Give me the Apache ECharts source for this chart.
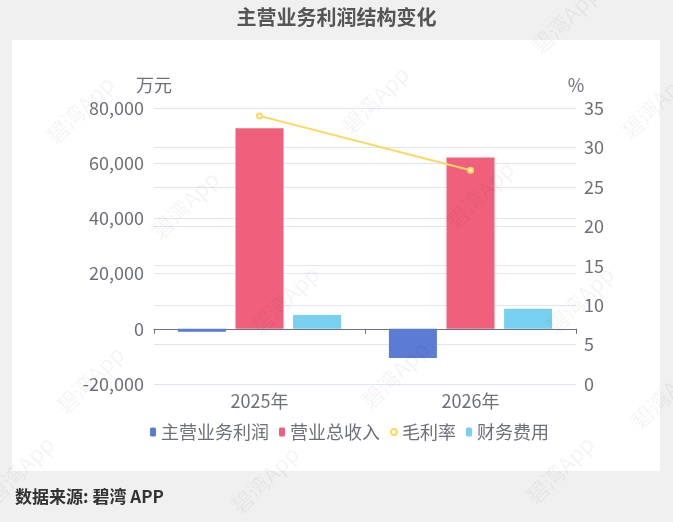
<!DOCTYPE html>
<html>
<head>
<meta charset="utf-8">
<script src="https://cdn.jsdelivr.net/npm/echarts@6/dist/echarts.min.js"></script>
<style>
html,body{margin:0;padding:0;background:#f0f0f0;}
#main{width:673px;height:522px;}
</style>
</head>
<body>
<div id="main"></div>
<script>
var categories = ['2025年', '2026年'];
var mainProfit = [-1100, -10600];
var totalRevenue = [72700, 62100];
var grossMargin = [34.0, 27.1];
var financeCost = [5000, 7300];
var seriesNames = ['主营业务利润', '营业总收入', '毛利率', '财务费用'];

var FONT = '"Noto Sans CJK SC", "Noto Sans", sans-serif';
var watermarkPos = [[80,110],[375,100],[655,105],[565,20],[185,205],[480,195],[285,300],[580,300],[90,380],[395,375],[265,480],[560,470],[20,470],[665,395]];
var graphics = [
  {type:'rect', z:-10, shape:{x:12,y:40,width:648,height:431}, style:{fill:'#ffffff'}, silent:true},
  {type:'text', left:'center', top:7, style:{text:'主营业务利润结构变化', font:'bold 20px ' + FONT, fill:'#555555'}},
  {type:'text', left:15, top:488, style:{text:'数据来源: 碧湾 APP', font:'bold 17px ' + FONT, fill:'#333333'}}
];
watermarkPos.forEach(function(p){
  graphics.push({type:'text', x:p[0], y:p[1], rotation:Math.PI/4, z:100, silent:true,
    style:{text:'碧湾App', font:'22px ' + FONT, fill:'rgba(0,0,0,0.045)', align:'center', verticalAlign:'middle'}});
});

var chart = echarts.init(document.getElementById('main'));
chart.setOption({
  backgroundColor:'#f0f0f0',
  textStyle:{fontFamily:FONT},
  graphic: graphics,
  legend:{
    top:418, left:145, itemGap:10, itemWidth:6, itemHeight:9,
    textStyle:{fontSize:18, color:'#6e7079', fontFamily:FONT},
    data:[
      {name:seriesNames[0], icon:'roundRect'},
      {name:seriesNames[1], icon:'roundRect'},
      {name:seriesNames[2], icon:'emptyCircle'},
      {name:seriesNames[3], icon:'roundRect'}
    ]
  },
  grid:{left:154, right:97, top:108, bottom:138, containLabel:false},
  xAxis:[
    {type:'category', data:categories, position:'bottom',
      axisLine:{show:false, onZero:false}, axisTick:{show:false},
      axisLabel:{fontSize:18, color:'#6e7079', margin:8}},
    {type:'category', data:categories, position:'bottom',
      axisLine:{show:true, onZero:true, onZeroAxisIndex:0, lineStyle:{color:'#6e7079'}},
      axisTick:{show:true}, axisLabel:{show:false}}
  ],
  yAxis:[
    {type:'value', min:-20000, max:80000, interval:20000, name:'万元',
      nameTextStyle:{fontSize:18, color:'#6e7079'}, nameGap:14,
      axisLabel:{fontSize:18, color:'#6e7079', margin:10},
      splitLine:{lineStyle:{color:'#e0e6f1'}}},
    {type:'value', min:0, max:35, interval:5, name:'%',
      nameTextStyle:{fontSize:18, color:'#6e7079'}, nameGap:14,
      axisLabel:{fontSize:18, color:'#6e7079', margin:8},
      splitLine:{show:true, lineStyle:{color:'#e0e6f1'}}}
  ],
  series:[
    {name:seriesNames[0], type:'bar', data:mainProfit, barWidth:48, barGap:'20%', itemStyle:{color:'#5b7bd5'}},
    {name:seriesNames[1], type:'bar', data:totalRevenue, barWidth:48, barGap:'20%', itemStyle:{color:'#f0607c'}},
    {name:seriesNames[2], type:'line', yAxisIndex:1, data:grossMargin, symbol:'emptyCircle', symbolSize:5,
      itemStyle:{color:'#fbd85e'}, lineStyle:{color:'#fbd85e', width:2}, z:5},
    {name:seriesNames[3], type:'bar', data:financeCost, barWidth:48, barGap:'20%', itemStyle:{color:'#77d0f0'}}
  ]
});
</script>
</body>
</html>
